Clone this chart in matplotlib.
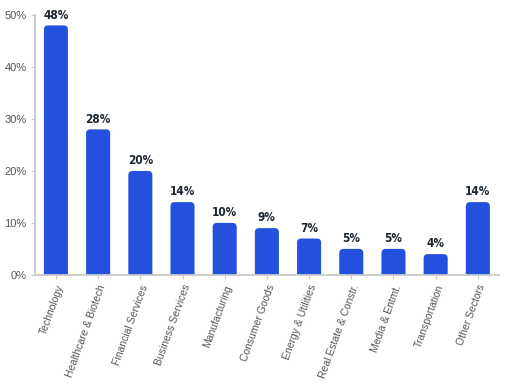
import matplotlib
matplotlib.use('Agg')
import matplotlib.pyplot as plt
from matplotlib.patches import FancyBboxPatch
from matplotlib.ticker import PercentFormatter
from matplotlib import font_manager


sectors = ['Technology', 'Healthcare & Biotech', 'Financial Services', 'Business Services',
           'Manufacturing', 'Consumer Goods', 'Energy & Utilities', 'Real Estate & Constr.',
           'Media & Entmt.', 'Transportation', 'Other Sectors']
shares = [48, 28, 20, 14, 10, 9, 7, 5, 5, 4, 14]

BLUE = '#2350dc'
GREY = '#c9c9c9'

# look for a narrow bold face for the value labels
narrow = [f.name for f in font_manager.fontManager.ttflist
          if 'condensed' in str(f.stretch).lower() or 'narrow' in f.name.lower()]
label_family = (narrow[:1] or ['DejaVu Sans']) + ['DejaVu Sans']

fig = plt.figure(figsize=(5.05, 3.85), dpi=100)
ax = fig.add_axes([0.069, 0.286, 0.919, 0.675])

xs = range(len(sectors))
bars = ax.bar(xs, shares, width=0.57, color=BLUE)
ax.set_xlim(-0.5, len(sectors) - 0.5)
ax.set_ylim(0, 50)

# swap plain bars for ones with rounded tops
aspect = (50 / 260) / (11 / 464)
for b in bars:
    x, w, h = b.get_x(), b.get_width(), b.get_height()
    b.set_visible(False)
    p = FancyBboxPatch((x, -3), w, h + 3, boxstyle='round,pad=0,rounding_size=0.1',
                       mutation_aspect=aspect, fc=BLUE, ec='none', clip_on=True)
    ax.add_patch(p)
    ax.text(x + w / 2, h + 0.7, f'{h:.0f}%', ha='center', va='bottom',
            fontsize=8.5, fontweight='bold', color='#1c2630',
            family=label_family, stretch='condensed')

ax.set_xticks(list(xs))
ax.set_xticklabels(sectors, rotation=70, ha='right', rotation_mode='anchor',
                   fontsize=7.5, color='#555555', family=['Liberation Sans', 'DejaVu Sans'])
ax.set_yticks(range(0, 51, 10))
ax.yaxis.set_major_formatter(PercentFormatter(decimals=0))
for lbl in ax.get_yticklabels():
    lbl.set_family(['Liberation Sans', 'DejaVu Sans'])
ax.tick_params(axis='y', labelsize=8, colors='#555555', length=3, color=GREY, pad=3)
ax.tick_params(axis='x', length=3, color=GREY, pad=3)

for s in ('top', 'right'):
    ax.spines[s].set_visible(False)
for s in ('left', 'bottom'):
    ax.spines[s].set_color(GREY)
    ax.spines[s].set_linewidth(1.3)

fig.savefig('out.png', dpi=100)
